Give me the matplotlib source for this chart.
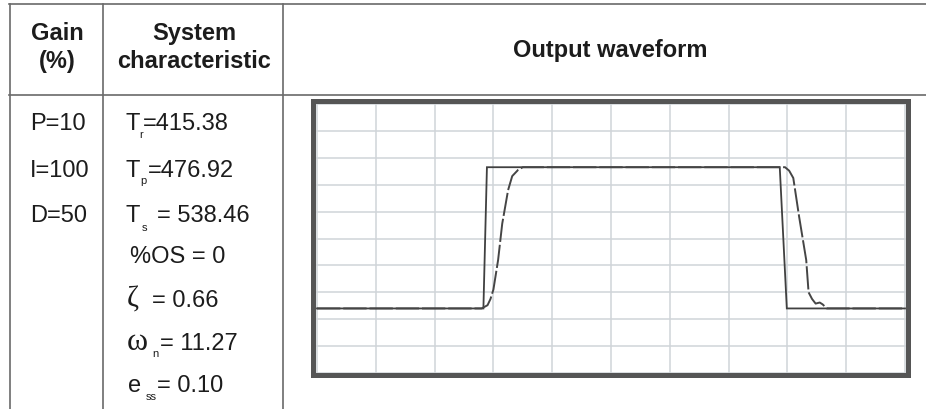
import matplotlib
matplotlib.use('Agg')
import matplotlib.pyplot as plt

# ---------------- data ----------------
header_labels = ['Gain\n(%)', 'System\ncharacteristic', 'Output waveform']
gain_labels = ['P=10', 'I=100', 'D=50']
char_symbols = ['T', 'T', 'T', '%OS', 'ζ', 'ω', 'e']
char_subscripts = ['r', 'p', 's', '', '', 'n', 'ss']
char_values = ['=415.38', '=476.92', '= 538.46', ' = 0', '= 0.66', '= 11.27', '= 0.10']

# reference (set-point) square wave, in grid units (0..10)
ref_x = [0.0, 2.83, 2.89, 7.87, 7.99, 10.0]
ref_y = [2.40, 2.40, 7.65, 7.65, 2.40, 2.40]

# measured system response, in grid units
resp_x = [0.0, 2.80, 2.90, 2.95, 3.00, 3.08, 3.15, 3.25, 3.32, 3.42, 3.50,
          7.96, 8.03, 8.10, 8.20, 8.32, 8.36, 8.42, 8.48, 8.55, 8.60, 8.67, 10.0]
resp_y = [2.40, 2.40, 2.52, 2.75, 3.10, 4.20, 5.55, 6.80, 7.32, 7.55, 7.65,
          7.65, 7.52, 7.25, 5.80, 4.20, 3.00, 2.75, 2.58, 2.62, 2.55, 2.40, 2.40]

# ---------------- figure ----------------
W, H, DPI = 926, 409, 100
fig = plt.figure(figsize=(W / DPI, H / DPI), dpi=DPI)
fig.patch.set_facecolor('white')

ov = fig.add_axes([0, 0, 1, 1])
ov.set_xlim(0, W)
ov.set_ylim(H, 0)
ov.axis('off')

SANS = 'Liberation Sans'
SERIF = 'Liberation Serif'
TXT = '#1c1c1c'
LINE = '#6a6a6a'

# table lines
lw_tab = 1.2
ov.plot([9, W], [3.5, 3.5], color=LINE, lw=lw_tab)
ov.plot([9, W], [95, 95], color=LINE, lw=lw_tab)
for xv in (9.5, 103, 282.5):
    ov.plot([xv, xv], [3.5, H], color=LINE, lw=lw_tab)

# headers
ov.text(57.5, 40, 'Gain', family=SANS, fontweight='bold', fontsize=17, color=TXT, ha='center', va='baseline')
ov.text(57.5, 68, '(%)', family=SANS, fontweight='bold', fontsize=17, color=TXT, ha='center', va='baseline')
ov.text(194, 40, 'System', family=SANS, fontweight='bold', fontsize=17, color=TXT, ha='center', va='baseline')
ov.text(194, 68, 'characteristic', family=SANS, fontweight='bold', fontsize=17, color=TXT, ha='center', va='baseline')
ov.text(610, 57, header_labels[2], family=SANS, fontweight='bold', fontsize=17, color=TXT, ha='center', va='baseline')

# gain column
gain_base = [130, 177, 222]
for lab, yb in zip(gain_labels, gain_base):
    ov.text(30, yb, lab, family=SANS, fontsize=17, color=TXT, ha='left', va='baseline')

# characteristic column
row_base = [130, 177, 222, 263, 307, 350, 392]
sym_x = [125, 125, 125, 130, 127, 127, 128]
sym_family = [SANS, SANS, SANS, SANS, SERIF, SERIF, SANS]
sym_size = [17, 17, 17, 17, 21, 23, 17]
sub_x = [139, 140, 142, 0, 0, 152, 146]
sub_dy = [8, 7, 9, 0, 0, 7, 8]
val_x = [143, 148, 157, 0, 152, 160, 157]
for i in range(len(char_symbols)):
    yb = row_base[i]
    if char_symbols[i] == '%OS':
        ov.text(sym_x[i], yb, char_symbols[i] + char_values[i], family=SANS, fontsize=17,
                color=TXT, ha='left', va='baseline')
        continue
    ov.text(sym_x[i], yb, char_symbols[i], family=sym_family[i], fontsize=sym_size[i],
            color=TXT, ha='left', va='baseline')
    if char_subscripts[i]:
        ov.text(sub_x[i], yb + sub_dy[i], char_subscripts[i], family=SANS, fontsize=8,
                color=TXT, ha='left', va='baseline')
    ov.text(val_x[i], yb, char_values[i], family=SANS, fontsize=17,
            color=TXT, ha='left', va='baseline')

# ---------------- waveform chart ----------------
L, R, T, B = 312.5, 907.5, 100.5, 375.0
ax = fig.add_axes([L / W, 1 - B / H, (R - L) / W, (B - T) / H])
px_x = (905 - 317) / 10.0
px_y = (373 - 104) / 10.0
ax.set_xlim(-(317 - L) / px_x, 10 + (R - 905) / px_x)
ax.set_ylim(-(B - 373) / px_y, 10 + (104 - T) / px_y)
ax.set_xticks(range(11))
ax.set_yticks(range(11))
ax.tick_params(length=0, labelbottom=False, labelleft=False)
ax.grid(True, color='#d0d4d8', lw=1.1)
ax.set_axisbelow(True)
for s in ax.spines.values():
    s.set_linewidth(3.6)
    s.set_color('#555555')
ax.plot(ref_x, ref_y, color='#404040', lw=1.3, solid_joinstyle='miter', zorder=3)
ax.plot(resp_x, resp_y, color='#454545', lw=1.4, linestyle=(0, (12, 1.5)), zorder=4)

fig.savefig('out.png', dpi=DPI)
